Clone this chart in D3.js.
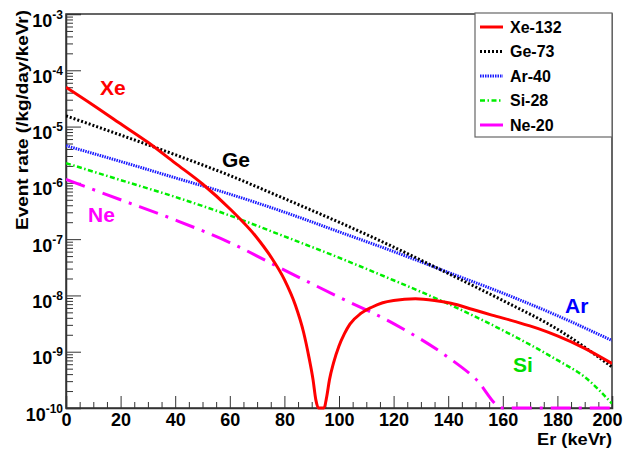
<!DOCTYPE html>
<html>
<head>
<meta charset="utf-8">
<script src="https://cdn.jsdelivr.net/npm/d3@7"></script>
<style>
  body { margin: 0; background: #fff; }
  text { font-family: "Liberation Sans", Arial, Helvetica, sans-serif; font-weight: bold; }
</style>
</head>
<body>
<div id="chart"></div>
<script>
// recoil energies (keVr) for the smooth targets
var energy = [0, 20, 40, 60, 80, 100, 120, 140, 160, 180, 200];
var geRate = [1.55e-5, 7.08e-6, 3.16e-6, 1.35e-6, 5.25e-7, 2.0e-7, 7.24e-8, 2.45e-8, 8.13e-9, 2.51e-9, 5.37e-10];
var arRate = [4.57e-6, 2.40e-6, 1.23e-6, 6.31e-7, 3.02e-7, 1.35e-7, 6.03e-8, 2.57e-8, 1.10e-8, 4.37e-9, 1.58e-9];

var siEnergy = [0, 20, 40, 60, 80, 100, 120, 140, 160, 180, 190, 200];
var siRate = [2.24e-6, 1.12e-6, 5.62e-7, 2.63e-7, 1.12e-7, 4.68e-8, 1.86e-8, 7.08e-9, 2.40e-9, 7.08e-10, 3.55e-10, 1.20e-10];

var neEnergy = [0, 20, 40, 60, 80, 100, 120, 140, 150, 160, 170, 180, 200];
var neRate = [1.15e-6, 5.01e-7, 2.19e-7, 8.71e-8, 2.82e-8, 9.33e-9, 3.16e-9, 7.94e-10, 3.31e-10, 1.0e-10, 2.5e-11, 6.3e-12, 3.2e-13];

// xenon has a form factor zero near 93 keVr
var xeEnergy = [0, 10, 20, 30, 40, 50, 60, 70, 75, 80, 84, 87, 89, 90.5, 91.5, 92.5, 93.5, 94.5, 95.5, 96.5, 98,
                100, 102, 104, 108, 112, 116, 120, 128, 135, 141, 149, 156, 165, 173, 180, 190, 200];
var xeRate = [5.01e-5, 2.40e-5, 1.12e-5, 5.25e-6, 2.24e-6, 9.55e-7, 3.47e-7, 1.05e-7, 4.90e-8, 1.91e-8, 6.76e-9, 2.24e-9, 7.94e-10, 3.16e-10, 1.41e-10, 4.0e-11, 1.0e-13, 4.0e-11, 1.58e-10, 3.16e-10, 6.31e-10,
              1.26e-9, 2.09e-9, 3.09e-9, 4.79e-9, 6.17e-9, 7.41e-9, 8.13e-9, 8.71e-9, 8.13e-9, 7.24e-9, 5.62e-9, 4.47e-9, 3.39e-9, 2.57e-9, 1.91e-9, 1.15e-9, 6.17e-10];

var xTicks = [0, 20, 40, 60, 80, 100, 120, 140, 160, 180, 200];
var yTickExp = [-3, -4, -5, -6, -7, -8, -9, -10];
var legendNames = ["Xe-132", "Ge-73", "Ar-40", "Si-28", "Ne-20"];

var W = 623, H = 450;
var margin = {top: 14, right: 11, bottom: 42, left: 66},
    width = W - margin.left - margin.right,
    height = H - margin.top - margin.bottom;

var svg = d3.select("#chart").append("svg")
    .attr("width", W).attr("height", H);
var g = svg.append("g")
    .attr("transform", "translate(" + margin.left + "," + margin.top + ")");

var x = d3.scaleLinear().domain([0, 200]).range([0, width]);
var y = d3.scaleLog().domain([1e-10, 1e-3]).range([height, 0]).clamp(true);

var axisColor = "#333";

// minor ticks
var yMinor = [];
yTickExp.slice(1).forEach(function(e) {
  for (var k = 2; k <= 9; k++) yMinor.push(k * Math.pow(10, e));
});
var xMinor = d3.range(0, 201, 5).filter(function(v) { return v % 20 !== 0; });

g.append("g").attr("class", "yminor")
  .call(d3.axisLeft(y).tickValues(yMinor).tickSize(-7).tickFormat(""));
g.append("g").attr("class", "xminor")
  .attr("transform", "translate(0," + height + ")")
  .call(d3.axisBottom(x).tickValues(xMinor).tickSize(-6).tickFormat(""));

var yAxis = g.append("g").attr("class", "yaxis")
  .call(d3.axisLeft(y).tickValues(yTickExp.map(function(e) { return Math.pow(10, e); }))
        .tickSize(-15).tickFormat(""));
var xAxis = g.append("g").attr("class", "xaxis")
  .attr("transform", "translate(0," + height + ")")
  .call(d3.axisBottom(x).tickValues(xTicks).tickSize(-12).tickPadding(6).tickFormat(d3.format("d")));

g.selectAll(".yminor path, .xminor path").remove();
g.selectAll(".tick line").attr("stroke", axisColor).attr("stroke-width", 1);
g.selectAll(".domain").attr("stroke", axisColor).attr("stroke-width", 1.5);

xAxis.selectAll(".tick text")
  .attr("y", 5).attr("dy", "0.71em")
  .attr("x", function(d) { return d === 200 ? -5 : 0; })
  .style("font-size", "18px").attr("fill", "#000");

// y labels as 10 with a superscript exponent
yAxis.selectAll(".tick").each(function(d, i) {
  var t = d3.select(this);
  t.select("text").remove();
  var lab = t.append("text").attr("fill", "#000").attr("text-anchor", "end")
    .attr("x", -3).attr("y", 12);
  lab.append("tspan").text("10").style("font-size", "18px");
  lab.append("tspan").text(yTickExp[i]).attr("dy", -8).style("font-size", "12px");
});

// frame
g.append("rect").attr("width", width).attr("height", height)
  .attr("fill", "none").attr("stroke", axisColor).attr("stroke-width", 1.5);

// curves
svg.append("clipPath").attr("id", "plotclip")
  .append("rect").attr("x", 0).attr("y", -2).attr("width", width).attr("height", height + 4);

var line = d3.line()
  .x(function(d) { return x(d[0]); })
  .y(function(d) { return y(d[1]); })
  .curve(d3.curveMonotoneX);

var series = [
  {name: "Ne-20", e: neEnergy, r: neRate, color: "#ff00ff", w: 3, dash: "20,8,3,8"},
  {name: "Si-28", e: siEnergy, r: siRate, color: "#00ee00", w: 2.5, dash: "5,2.5,1.5,2.5"},
  {name: "Ar-40", e: energy, r: arRate, color: "#1a1aff", w: 3, dash: "1.5,1"},
  {name: "Ge-73", e: energy, r: geRate, color: "#000000", w: 3, dash: "2,2"},
  {name: "Xe-132", e: xeEnergy, r: xeRate, color: "#ff0000", w: 3, dash: null}
];

var curves = g.append("g").attr("clip-path", "url(#plotclip)");
series.forEach(function(s) {
  var pts = s.e.map(function(v, i) { return [v, s.r[i]]; });
  curves.append("path").datum(pts)
    .attr("d", line)
    .attr("fill", "none")
    .attr("stroke", s.color)
    .attr("stroke-width", s.w)
    .attr("stroke-dasharray", s.dash);
});

// curve labels
var labels = [
  {t: "Xe", x: 100, y: 95, c: "#ff0000"},
  {t: "Ge", x: 222, y: 167, c: "#000000"},
  {t: "Ne", x: 88, y: 222, c: "#ff00ff"},
  {t: "Ar", x: 565, y: 313, c: "#0000ff"},
  {t: "Si", x: 513, y: 372, c: "#00dd00"}
];
svg.selectAll("text.clabel").data(labels).enter().append("text")
  .attr("class", "clabel")
  .attr("x", function(d) { return d.x; })
  .attr("y", function(d) { return d.y; })
  .attr("fill", function(d) { return d.c; })
  .style("font-size", "21px")
  .text(function(d) { return d.t; });

// axis titles
svg.append("text")
  .attr("x", 612).attr("y", 445)
  .attr("text-anchor", "end")
  .style("font-size", "17px")
  .attr("textLength", 75).attr("lengthAdjust", "spacingAndGlyphs")
  .text("Er (keVr)");
svg.append("text")
  .attr("transform", "translate(28,10) rotate(-90)")
  .attr("text-anchor", "end")
  .style("font-size", "17px")
  .attr("textLength", 220).attr("lengthAdjust", "spacingAndGlyphs")
  .text("Event rate (/kg/day/keVr)");

// legend
var leg = svg.append("g").attr("transform", "translate(475,13)");
leg.append("rect").attr("width", 137).attr("height", 124)
  .attr("fill", "#fff").attr("stroke", "#666").attr("stroke-width", 1.2);
legendNames.forEach(function(n, i) {
  var s = series.filter(function(d) { return d.name === n; })[0];
  var yy = 14 + i * 24.5;
  leg.append("line").attr("x1", 5).attr("x2", 28).attr("y1", yy).attr("y2", yy)
    .attr("stroke", s.color).attr("stroke-width", s.w)
    .attr("stroke-dasharray", s.name === "Ne-20" ? null : s.dash);
  leg.append("text").attr("x", 35).attr("y", yy).attr("dy", "0.35em")
    .style("font-size", "16px").text(n);
});
</script>
</body>
</html>
